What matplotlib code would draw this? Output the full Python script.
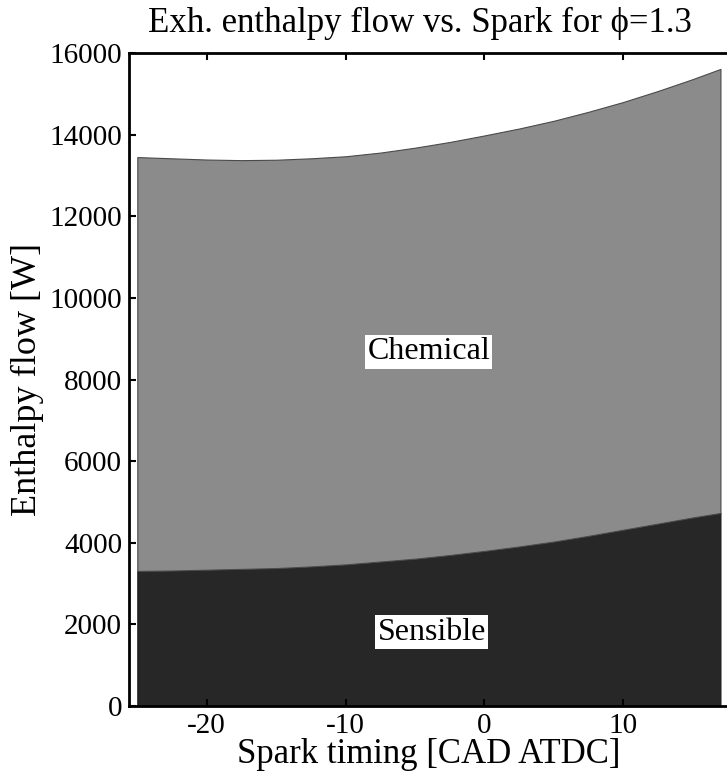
import matplotlib
matplotlib.use("Agg")
import matplotlib.pyplot as plt
import numpy as np

# Spark timing sweep [CAD ATDC]
spark = [-25, -22.5, -20, -17.5, -15, -12.5, -10, -7.5, -5, -2.5,
         0, 2.5, 5, 7.5, 10, 12.5, 15, 17]
# Exhaust enthalpy flow components [W]
sensible = [3310, 3320, 3340, 3360, 3380, 3420, 3470, 3540, 3610, 3700,
            3800, 3910, 4030, 4170, 4320, 4470, 4620, 4730]
chemical = [10140, 10100, 10050, 10015, 10005, 10000, 10000, 10020, 10070, 10120,
            10180, 10240, 10310, 10390, 10480, 10600, 10740, 10880]

x_ticks = [-20, -10, 0, 10]
y_ticks = [0, 2000, 4000, 6000, 8000, 10000, 12000, 14000, 16000]

plt.rcParams['font.family'] = ['Liberation Serif', 'DejaVu Serif']
plt.rcParams['axes.unicode_minus'] = False

fig = plt.figure(figsize=(7.27, 7.75), dpi=100)
ax = fig.add_axes([0.1774, 0.089, 0.826, 0.8426])

x = np.array(spark, dtype=float)
s = np.array(sensible, dtype=float)
c = np.array(chemical, dtype=float)

ax.fill_between(x, 0, s, facecolor='#272727', edgecolor='#1a1a1a', linewidth=0.8)
ax.fill_between(x, s, s + c, facecolor='#8b8b8b', edgecolor='#4a4a4a', linewidth=0.8)

ax.set_xlim(-25.6, 17.65)
ax.set_ylim(0, 16000)
ax.set_xticks(x_ticks)
ax.set_yticks(y_ticks)
ax.tick_params(axis='both', direction='in', length=5, width=1.5,
               labelsize=21, top=True, right=False, pad=5)

for side in ['left', 'bottom', 'top']:
    ax.spines[side].set_linewidth(2)
ax.spines['right'].set_visible(False)

ax.set_xlabel('Spark timing [CAD ATDC]', fontsize=25, labelpad=-1)
ax.set_ylabel('Enthalpy flow [W]', fontsize=26, labelpad=4)
ax.set_title('Exh. enthalpy flow vs. Spark for ϕ=1.3', fontsize=25, pad=15, x=0.485)

box = dict(facecolor='white', edgecolor='none', pad=1.5)
ax.text(-4.0, 8680, 'Chemical', fontsize=23, ha='center', va='center', bbox=box)
ax.text(-3.8, 1810, 'Sensible', fontsize=23, ha='center', va='center', bbox=box)

fig.savefig('out.png', dpi=100)
